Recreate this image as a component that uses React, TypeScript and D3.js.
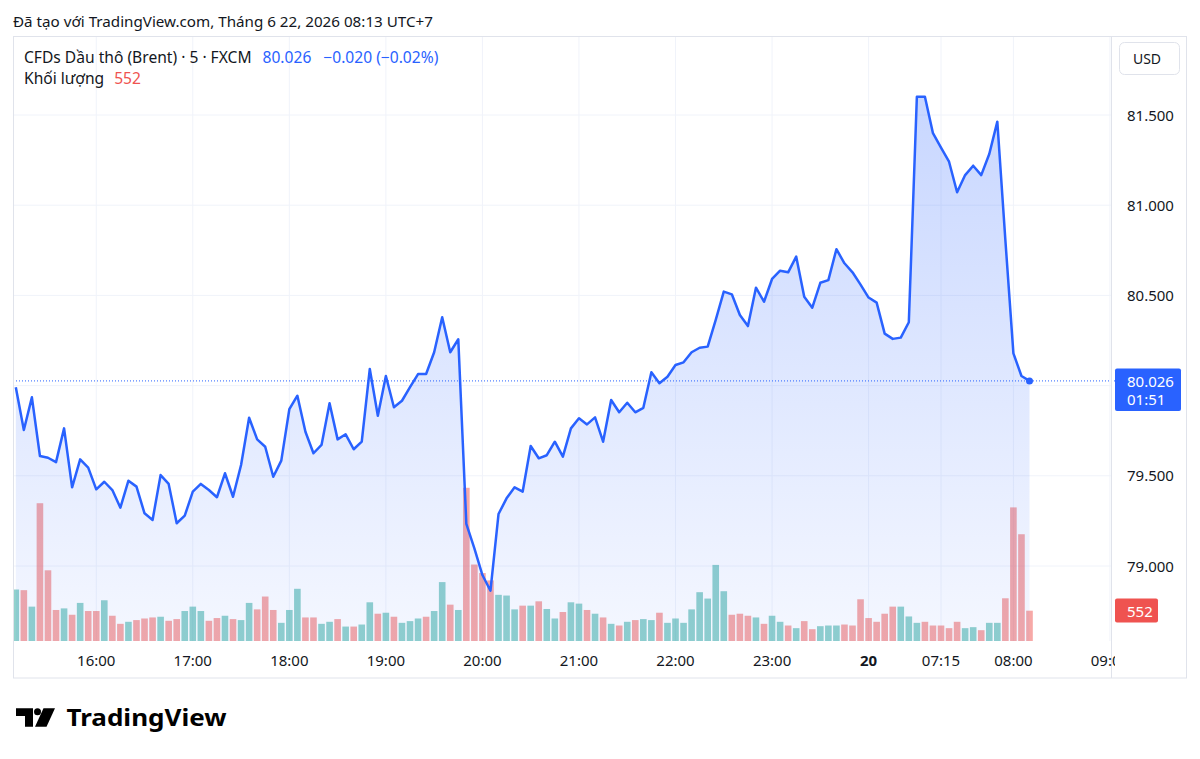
import * as d3 from 'd3';
import { useEffect, useRef } from 'react';

// 5-minute closes, 15:10 (19th) .. 08:10 (20th)
const prices = [
    79.991, 79.754, 79.935, 79.610, 79.600, 79.576, 79.763, 79.436, 79.591, 79.545,
    79.425, 79.467, 79.421, 79.323, 79.473, 79.440, 79.292, 79.255, 79.504, 79.455,
    79.237, 79.279, 79.412, 79.455, 79.421, 79.381, 79.514, 79.384, 79.560, 79.822,
    79.702, 79.661, 79.495, 79.584, 79.869, 79.944, 79.744, 79.625, 79.671, 79.902,
    79.702, 79.730, 79.647, 79.689, 80.092, 79.833, 80.053, 79.880, 79.916, 79.991,
    80.064, 80.064, 80.185, 80.379, 80.185, 80.257, 79.233, 79.098, 78.950, 78.863,
    79.288, 79.375, 79.436, 79.412, 79.665, 79.597, 79.614, 79.689, 79.606, 79.763,
    79.819, 79.785, 79.824, 79.689, 79.920, 79.852, 79.905, 79.852, 79.877, 80.074,
    80.013, 80.049, 80.114, 80.129, 80.185, 80.210, 80.216, 80.364, 80.521, 80.506,
    80.391, 80.330, 80.543, 80.465, 80.591, 80.637, 80.628, 80.715, 80.493, 80.432,
    80.570, 80.585, 80.756, 80.678, 80.628, 80.560, 80.488, 80.460, 80.288, 80.259,
    80.266, 80.351, 81.601, 81.601, 81.399, 81.319, 81.241, 81.072, 81.167, 81.219,
    81.167, 81.284, 81.463, 80.807, 80.179, 80.053, 80.026,
];
const volumes = [
    938, 926, 626, 2510, 1288, 565, 594, 478, 694, 546,
    546, 742, 460, 313, 350, 381, 410, 429, 442, 368,
    399, 546, 626, 546, 368, 418, 460, 399, 381, 694,
    576, 810, 565, 331, 565, 951, 429, 429, 313, 350,
    399, 263, 263, 300, 705, 497, 515, 442, 331, 362,
    410, 442, 546, 1073, 662, 565, 2791, 1393, 1238, 1104,
    841, 828, 576, 644, 644, 723, 583, 410, 528, 705,
    681, 565, 497, 429, 313, 282, 350, 381, 399, 381,
    515, 331, 410, 331, 576, 889, 773, 1386, 907, 478,
    497, 460, 429, 313, 460, 350, 282, 234, 362, 215,
    270, 282, 282, 300, 282, 760, 418, 350, 497, 626,
    626, 447, 331, 350, 282, 282, 234, 350, 234, 252,
    197, 331, 331, 778, 2434, 1945, 552,
];
// u = up bar (teal), d = down bar (red)
const volDir = "ududddudud" + "duddudddud" + "duuudduduu" + "ddduuudduu" + "duduududuu" +
    "uduududddd" + "uuududuudu" + "ududududuu" + "duuuuuuuud" + "dduduududd" +
    "uuuddddddd" + "uuuddddduu" + "duudddd";
const timeTicks = [10, 22, 34, 46, 58, 70, 82, 94, 106, 115, 124, 136];
const timeLabels = ["16:00", "17:00", "18:00", "19:00", "20:00", "21:00", "22:00", "23:00", "20", "07:15", "08:00", "09:00"];
const priceTicks = [79, 79.5, 80, 80.5, 81, 81.5];

const FONT = "'Noto Sans', sans-serif";
const TEXT = "#131722";
const BLUE = "#2962ff";

const App = () => {
    const ref = useRef<SVGSVGElement>(null);
    useEffect(() => {
        const svg = d3.select(ref.current);
        svg.selectAll("*").remove();
        const pane = { left: 13, right: 1112, top: 36, bottom: 641 };

        const x = d3.scaleLinear().domain([0, 126]).range([15.8, 1029.5]);
        const y = d3.scaleLinear().domain([79, 81.5]).range([566, 115]);
        const yVol = d3.scaleLinear().domain([0, 2800]).range([pane.bottom, pane.bottom - 153.7]);
        const last = prices[prices.length - 1];

        svg.append("rect").attr("width", 1200).attr("height", 759).attr("fill", "#fff");

        const defs = svg.append("defs");
        const grad = defs.append("linearGradient").attr("id", "areaGrad")
            .attr("gradientUnits", "userSpaceOnUse")
            .attr("x1", 0).attr("x2", 0).attr("y1", pane.top).attr("y2", pane.bottom);
        grad.append("stop").attr("offset", 0).attr("stop-color", BLUE).attr("stop-opacity", 0.28);
        grad.append("stop").attr("offset", 1).attr("stop-color", BLUE).attr("stop-opacity", 0.05);
        defs.append("clipPath").attr("id", "paneClip").append("rect")
            .attr("x", pane.left).attr("y", pane.top)
            .attr("width", pane.right - pane.left).attr("height", pane.bottom - pane.top);
        defs.append("clipPath").attr("id", "timeClip").append("rect")
            .attr("x", pane.left).attr("y", pane.bottom)
            .attr("width", pane.right - pane.left + 3).attr("height", 40);

        // header
        svg.append("text").attr("x", 13).attr("y", 26.5)
            .style("font-family", FONT).style("font-size", "15.2px").attr("fill", TEXT)
            .text("Đã tạo với TradingView.com, Tháng 6 22, 2026 08:13 UTC+7");

        // grid
        const g = svg.append("g").attr("clip-path", "url(#paneClip)");
        g.selectAll(".vgrid").data(timeTicks).enter().append("line")
            .attr("x1", (d: any) => x(d)).attr("x2", (d: any) => x(d))
            .attr("y1", pane.top).attr("y2", pane.bottom)
            .attr("stroke", "#f0f3fa").attr("stroke-width", 1);
        g.selectAll(".hgrid").data(priceTicks).enter().append("line")
            .attr("x1", pane.left).attr("x2", pane.right)
            .attr("y1", (d: any) => y(d)).attr("y2", (d: any) => y(d))
            .attr("stroke", "#f0f3fa").attr("stroke-width", 1);

        // volume bars
        g.selectAll(".bar").data(volumes).enter().append("rect")
            .attr("x", (d: any, i: number) => x(i) - 3.3)
            .attr("width", 6.6)
            .attr("y", (d: any) => yVol(d))
            .attr("height", (d: any) => pane.bottom - yVol(d))
            .attr("fill", (d: any, i: number) => volDir[i] === "u" ? "rgba(38,166,154,0.5)" : "rgba(239,83,80,0.5)");

        // area + line
        const area = d3.area<number>().x((d, i) => x(i)).y0(pane.bottom).y1(d => y(d));
        const line = d3.line<number>().x((d, i) => x(i)).y(d => y(d));
        g.append("path").attr("d", area(prices) as string).attr("fill", "url(#areaGrad)");
        g.append("path").attr("d", line(prices) as string).attr("fill", "none")
            .attr("stroke", BLUE).attr("stroke-width", 2.5).attr("stroke-linejoin", "round");

        // last price dotted line
        svg.append("line").attr("x1", pane.left).attr("x2", 1115)
            .attr("y1", y(last)).attr("y2", y(last))
            .attr("stroke", BLUE).attr("stroke-width", 1).attr("stroke-dasharray", "1,2");
        svg.append("circle").attr("cx", x(prices.length - 1)).attr("cy", y(last)).attr("r", 3.5).attr("fill", BLUE);

        // frame
        svg.append("rect").attr("x", 13.5).attr("y", 36.5).attr("width", 1173).attr("height", 641.5)
            .attr("fill", "none").attr("stroke", "#e0e3eb");
        svg.append("line").attr("x1", 1111.5).attr("x2", 1111.5).attr("y1", 36).attr("y2", 678)
            .attr("stroke", "#e0e3eb");

        // price axis (the label under the last-price box is hidden)
        svg.selectAll(".ptick").data(priceTicks.filter(d => Math.abs(y(d) - y(last)) > 24)).enter().append("text")
            .attr("x", 1127).attr("y", (d: any) => y(d) + 5.5)
            .style("font-family", FONT).style("font-size", "15px").attr("fill", TEXT)
            .text((d: any) => d3.format(".3f")(d));

        // USD button
        svg.append("rect").attr("x", 1119.5).attr("y", 42.5).attr("width", 60).attr("height", 32).attr("rx", 5)
            .attr("fill", "#fff").attr("stroke", "#e0e3eb");
        svg.append("text").attr("x", 1147).attr("y", 64).attr("text-anchor", "middle")
            .style("font-family", FONT).style("font-size", "14px").attr("fill", TEXT).text("USD");

        // last price label
        svg.append("rect").attr("x", 1115).attr("y", 368.5).attr("width", 66).attr("height", 42.5).attr("rx", 2)
            .attr("fill", BLUE);
        svg.append("text").attr("x", 1127).attr("y", 386.5)
            .style("font-family", FONT).style("font-size", "15px").attr("fill", "#fff").text(d3.format(".3f")(last));
        svg.append("text").attr("x", 1127).attr("y", 405)
            .style("font-family", FONT).style("font-size", "15px").attr("fill", "#fff").text("01:51");

        // volume label
        const lastVol = volumes[volumes.length - 1];
        svg.append("rect").attr("x", 1115).attr("y", 598.5).attr("width", 43).attr("height", 24).attr("rx", 2)
            .attr("fill", "#ef5350");
        svg.append("text").attr("x", 1127).attr("y", 616.5)
            .style("font-family", FONT).style("font-size", "15px").attr("fill", "#fff").text(String(lastVol));

        // time axis
        svg.append("g").attr("clip-path", "url(#timeClip)")
            .selectAll("text").data(timeTicks).enter().append("text")
            .attr("x", (d: any) => x(d)).attr("y", 666).attr("text-anchor", "middle")
            .style("font-family", FONT).style("font-size", "15px")
            .style("font-weight", (d: any, i: number) => timeLabels[i] === "20" ? "bold" : "normal")
            .attr("fill", TEXT)
            .text((d: any, i: number) => timeLabels[i]);

        // legend
        const t1 = svg.append("text").attr("x", 24).attr("y", 63)
            .style("font-family", FONT).style("font-size", "15.6px").attr("fill", TEXT)
            .text("CFDs Dầu thô (Brent) · 5 · FXCM");
        const w1 = (t1.node() as SVGTextElement).getComputedTextLength();
        const t2 = svg.append("text").attr("x", 24 + w1 + 11).attr("y", 63)
            .style("font-family", FONT).style("font-size", "15.6px").attr("fill", BLUE)
            .text(d3.format(".3f")(last));
        const w2 = (t2.node() as SVGTextElement).getComputedTextLength();
        svg.append("text").attr("x", 24 + w1 + 11 + w2 + 12).attr("y", 63)
            .style("font-family", FONT).style("font-size", "15.6px").attr("fill", BLUE)
            .text("−0.020 (−0.02%)");
        const t4 = svg.append("text").attr("x", 24).attr("y", 84)
            .style("font-family", FONT).style("font-size", "15.6px").attr("fill", TEXT)
            .text("Khối lượng");
        const w4 = (t4.node() as SVGTextElement).getComputedTextLength();
        svg.append("text").attr("x", 24 + w4 + 10).attr("y", 84)
            .style("font-family", FONT).style("font-size", "15.6px").attr("fill", "#ef5350")
            .text(String(lastVol));

        // TradingView logo
        const logo = svg.append("g").attr("fill", "#000");
        logo.append("path").attr("d", "M16,708.3 H33 V726.7 H25 V716 H16 Z");
        logo.append("circle").attr("cx", 37.5).attr("cy", 711.8).attr("r", 3.5);
        logo.append("path").attr("d", "M43.5,708.3 H55 L46.5,726.7 H35 Z");
        svg.append("text").attr("x", 66.5).attr("y", 726)
            .style("font-family", FONT).style("font-size", "23px").style("font-weight", "bold")
            .attr("textLength", 160).attr("lengthAdjust", "spacingAndGlyphs")
            .attr("fill", "#000").text("TradingView");
    }, []);
    return (
        <div style={{ position: "absolute", left: 0, top: 0 }}>
            <svg ref={ref} width={1200} height={759} style={{ display: "block" }}></svg>
        </div>
    );
};
export default App;
